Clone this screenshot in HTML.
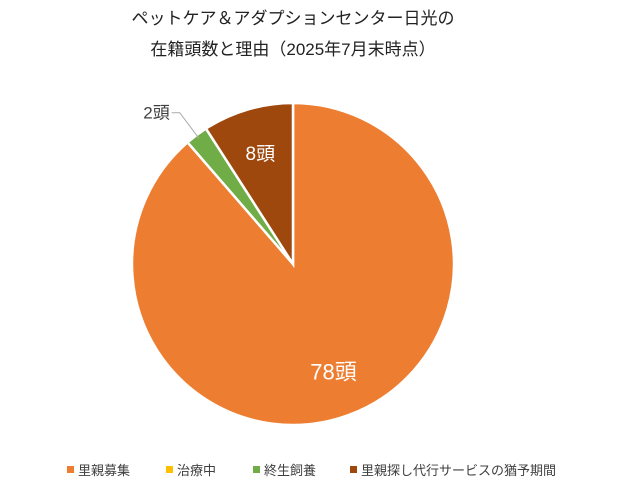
<!DOCTYPE html>
<html><head><meta charset="utf-8">
<style>
body{margin:0;background:#fff;}
svg text{font-family:"Liberation Sans","Noto Sans CJK JP",sans-serif;}
</style></head>
<body>
<svg id="chart" width="627" height="490" viewBox="0 0 627 490" xmlns="http://www.w3.org/2000/svg">
<rect width="627" height="490" fill="#fff"/>
<text x="293" y="24" text-anchor="middle" font-size="17" fill="#222">ペットケア＆アダプションセンター日光の</text>
<text x="293" y="55" text-anchor="middle" font-size="17" fill="#222">在籍頭数と理由（2025年7月末時点）</text>
<g id="slices"></g>
<g id="labels"></g>
<g id="legend"></g>
</svg>
<script>
const categories = ["里親募集", "治療中", "終生飼養", "里親探し代行サービスの猶予期間"];
const values = [78, 0, 2, 8];
const valueLabels = ["78頭", "0頭", "2頭", "8頭"];
const colors = ["#ED7D31", "#FFC000", "#70AD47", "#9E480E"];

const NS = "http://www.w3.org/2000/svg";
const cx = 293, cy = 264, r = 161;
const total = values.reduce((a, b) => a + b, 0);
function pt(angle, rad) {
  return [cx + rad * Math.sin(angle), cy - rad * Math.cos(angle)];
}
const sg = document.getElementById("slices");
const lg = document.getElementById("labels");
let a0 = 0;
values.forEach((v, i) => {
  const a1 = a0 + v / total * 2 * Math.PI;
  if (v > 0) {
    const p0 = pt(a0, r), p1 = pt(a1, r);
    const large = (a1 - a0) > Math.PI ? 1 : 0;
    const path = document.createElementNS(NS, "path");
    path.setAttribute("d", `M${cx},${cy} L${p0[0]},${p0[1]} A${r},${r} 0 ${large} 1 ${p1[0]},${p1[1]} Z`);
    path.setAttribute("fill", colors[i]);
    path.setAttribute("stroke", "#fff");
    path.setAttribute("stroke-width", "2.5");
    
    
    sg.appendChild(path);
    const mid = (a0 + a1) / 2;
    const frac = v / total;
    const t = document.createElementNS(NS, "text");
    if (frac < 0.05) {
      const e = pt(mid, r - 4), b = pt(mid, r + 28);
      const ln = document.createElementNS(NS, "polyline");
      ln.setAttribute("points", `${e[0]},${e[1]} ${b[0]},${b[1]} ${b[0] - 8},${b[1]}`);
      ln.setAttribute("fill", "none");
      ln.setAttribute("stroke", "#aaa");
      
      
      lg.appendChild(ln);
      t.setAttribute("x", b[0] - 10);
      t.setAttribute("y", b[1] + 6);
      t.setAttribute("text-anchor", "end");
      t.setAttribute("font-size", "17");
      t.setAttribute("fill", "#404040");
    } else {
      const lp = pt(mid, frac > 0.5 ? r * 0.72 : r * 0.72);
      t.setAttribute("x", lp[0]);
      t.setAttribute("y", lp[1] + 7);
      t.setAttribute("text-anchor", "middle");
      t.setAttribute("font-size", frac > 0.5 ? "22" : "19");
      t.setAttribute("fill", "#fff");
    }
    t.textContent = valueLabels[i];
    
    
    lg.appendChild(t);
  }
  a0 = a1;
});
const leg = document.getElementById("legend");
const legX = [67, 166, 253, 350];
categories.forEach((c, i) => {
  const g = document.createElementNS(NS, "g");
  
  
  const m = document.createElementNS(NS, "rect");
  m.setAttribute("x", legX[i]); m.setAttribute("y", 466);
  m.setAttribute("width", 7); m.setAttribute("height", 7);
  m.setAttribute("fill", colors[i]);
  
  
  g.appendChild(m);
  const t = document.createElementNS(NS, "text");
  t.setAttribute("x", legX[i] + 11); t.setAttribute("y", 475);
  t.setAttribute("font-size", "13"); t.setAttribute("fill", "#404040");
  t.textContent = c;
  
  
  g.appendChild(t);
  leg.appendChild(g);
});
</script>
</body></html>
